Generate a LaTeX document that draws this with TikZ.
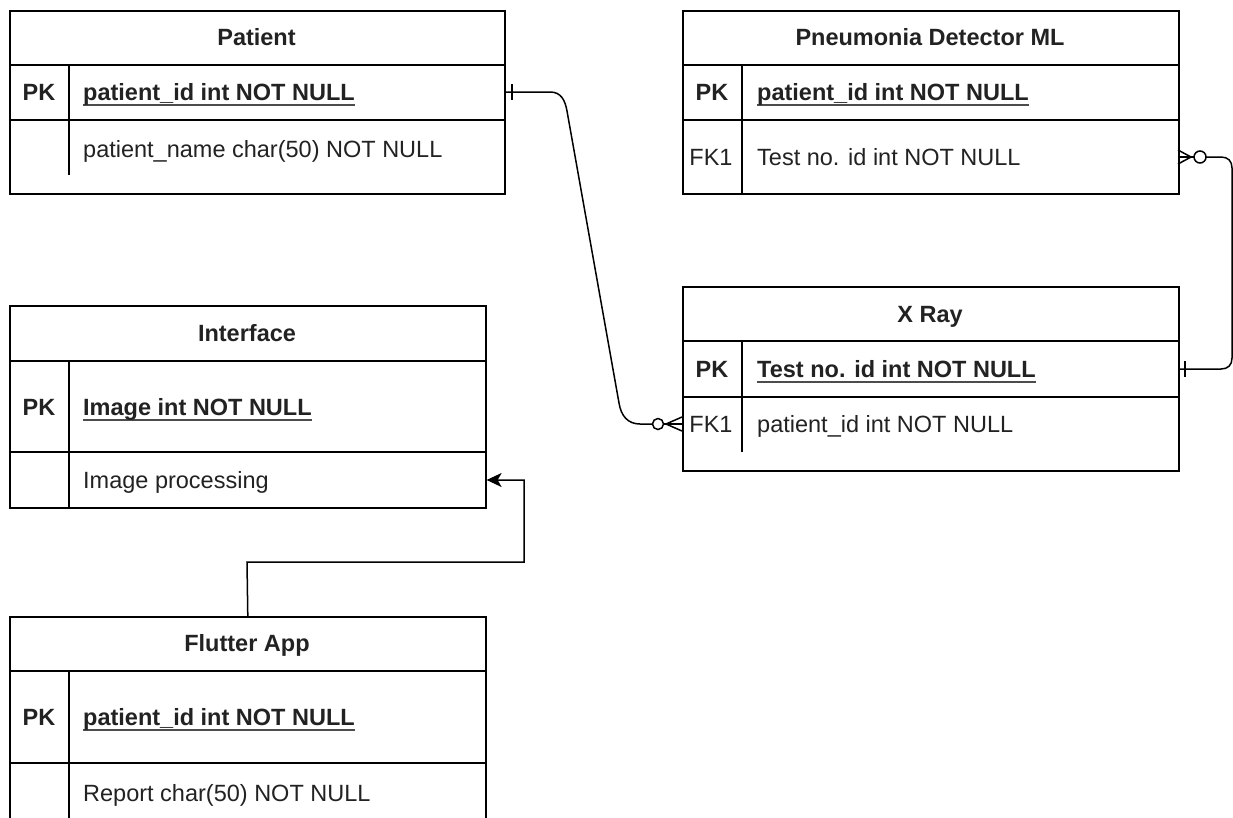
\documentclass[tikz,border=0pt]{standalone}
\usepackage{fontspec}
\setmainfont{Liberation Sans}
\usetikzlibrary{arrows.meta,calc}
\newsavebox\ulbox
\newcommand\uline[1]{\sbox\ulbox{#1}\rlap{\color{black!70}\rule[-5.2pt]{\wd\ulbox}{1.6pt}}\usebox\ulbox}
\definecolor{txt}{HTML}{222222}
\tikzset{
  tbl/.style={draw, line width=1.6pt, inner sep=0pt, anchor=north west},
  sep/.style={line width=1.6pt},
  basefont/.style={font=\fontsize{23.5}{28}\selectfont, inner sep=0pt, text height=16.8pt, text depth=0pt, text=txt},
  ttl/.style={basefont, font=\fontsize{23.5}{28}\selectfont\bfseries},
  keycol/.style={basefont, font=\fontsize{23.5}{28}\selectfont\bfseries},
  fkcol/.style={basefont},
  fld/.style={basefont, anchor=west},
  pkfld/.style={basefont, anchor=west, font=\fontsize{23.5}{28}\selectfont\bfseries},
  conn/.style={line width=1.5pt},
}
\begin{document}
\begin{tikzpicture}[x=1pt,y=-1pt]
\useasboundingbox (0,0) rectangle (1233,817);
\fill[white] (0,0) rectangle (1233,817);

% ---- Patient ----
\node[tbl, minimum width=495pt, minimum height=183pt] (patient) at (9,10) {};
\draw[sep] (9,65) -- (504,65);
\draw[sep] (9,120) -- (504,120);
\draw[sep] (69,65) -- (69,175);
\node[ttl] (patient-t) at (256.5,37.5) {Patient};
\node[keycol] (patient-k1) at (39,92) {PK};
\node[pkfld] (patient-f1) at (83,92) {\uline{patient\_id int NOT NULL}};
\node[fld] (patient-f2) at (83,149) {patient\_name char(50) NOT NULL};

% ---- Pneumonia Detector ML ----
\node[tbl, minimum width=496pt, minimum height=183pt] (pneu) at (682,10) {};
\draw[sep] (682,65) -- (1178,65);
\draw[sep] (682,120) -- (1178,120);
\draw[sep] (742,65) -- (742,193);
\node[ttl] (pneu-t) at (930,37.5) {Pneumonia Detector ML};
\node[keycol] (pneu-k1) at (712,92) {PK};
\node[pkfld] (pneu-f1) at (757,92) {\uline{patient\_id int NOT NULL}};
\node[fkcol] (pneu-k2) at (711,157) {FK1};
\node[fld] (pneu-f2) at (757,157) {Test no. id int NOT NULL};

% ---- X Ray ----
\node[tbl, minimum width=496pt, minimum height=184pt] (xray) at (682,286) {};
\draw[sep] (682,341) -- (1178,341);
\draw[sep] (682,397) -- (1178,397);
\draw[sep] (742,341) -- (742,452);
\node[ttl] (xray-t) at (930,314) {X Ray};
\node[keycol] (xray-k1) at (712,369) {PK};
\node[pkfld] (xray-f1) at (757,369) {\uline{Test no. id int NOT NULL}};
\node[fkcol] (xray-k2) at (711,424) {FK1};
\node[fld] (xray-f2) at (757,424) {patient\_id int NOT NULL};

% ---- Interface ----
\node[tbl, minimum width=476pt, minimum height=202pt] (interface) at (9,305) {};
\draw[sep] (9,361) -- (485,361);
\draw[sep] (9,452) -- (485,452);
\draw[sep] (69,361) -- (69,507);
\node[ttl] (interface-t) at (247,333) {Interface};
\node[keycol] (interface-k1) at (39,407) {PK};
\node[pkfld] (interface-f1) at (83,407) {\uline{Image int NOT NULL}};
\node[fld] (interface-f2) at (83,480) {Image processing};

% ---- Flutter App ----
\node[tbl, minimum width=476pt, minimum height=220pt] (flutter) at (9,616) {};
\draw[sep] (9,671) -- (485,671);
\draw[sep] (9,763) -- (485,763);
\draw[sep] (69,671) -- (69,836);
\node[ttl] (flutter-t) at (247,643.5) {Flutter App};
\node[keycol] (flutter-k1) at (39,717) {PK};
\node[pkfld] (flutter-f1) at (83,717) {\uline{patient\_id int NOT NULL}};
\node[fld] (flutter-f2) at (83,793) {Report char(50) NOT NULL};

% ---- Patient (one) -> X Ray (zero or many) ----
\draw[conn] (patient.east |- patient-f1.west) -- (550,92)
  .. controls (561,92) and (565,100) .. (567,111) -- (619,403)
  .. controls (621,416) and (628,424) .. (640,424) -- (652.5,424);
\draw[conn] (512,84) -- (512,100);
\draw[conn] (658,424) circle (5.5);
\draw[conn] (663.5,424) -- (xray.west |- xray-f2.west);
\draw[conn] (682,417) -- (666,424) -- (682,431);

% ---- X Ray (one) -> Pneumonia Detector ML (zero or many) ----
\draw[conn] (xray.east |- xray-f1.west) -- (1221,369)
  .. controls (1228,369) and (1232,365) .. (1232,358) -- (1232,168)
  .. controls (1232,161) and (1228,157) .. (1221,157) -- (1206,157);
\draw[conn] (1185,361) -- (1185,377);
\draw[conn] (1200,157) circle (6);
\draw[conn] (1194,157) -- (pneu.east |- pneu-f2.west);
\draw[conn] (1178,150) -- (1191,157) -- (1178,164);

% ---- Flutter App -> Interface ----
\coordinate (bend1) at (247,562);
\coordinate (bend2) at (524,562);
\coordinate (bend3) at (524,480);
\draw[conn, -{Stealth[length=15pt, width=14pt, inset=4pt]}] (flutter.north) -- (bend1) -- (bend2) -- (bend3) -- (interface.east |- interface-f2.west);
\end{tikzpicture}
\end{document}
